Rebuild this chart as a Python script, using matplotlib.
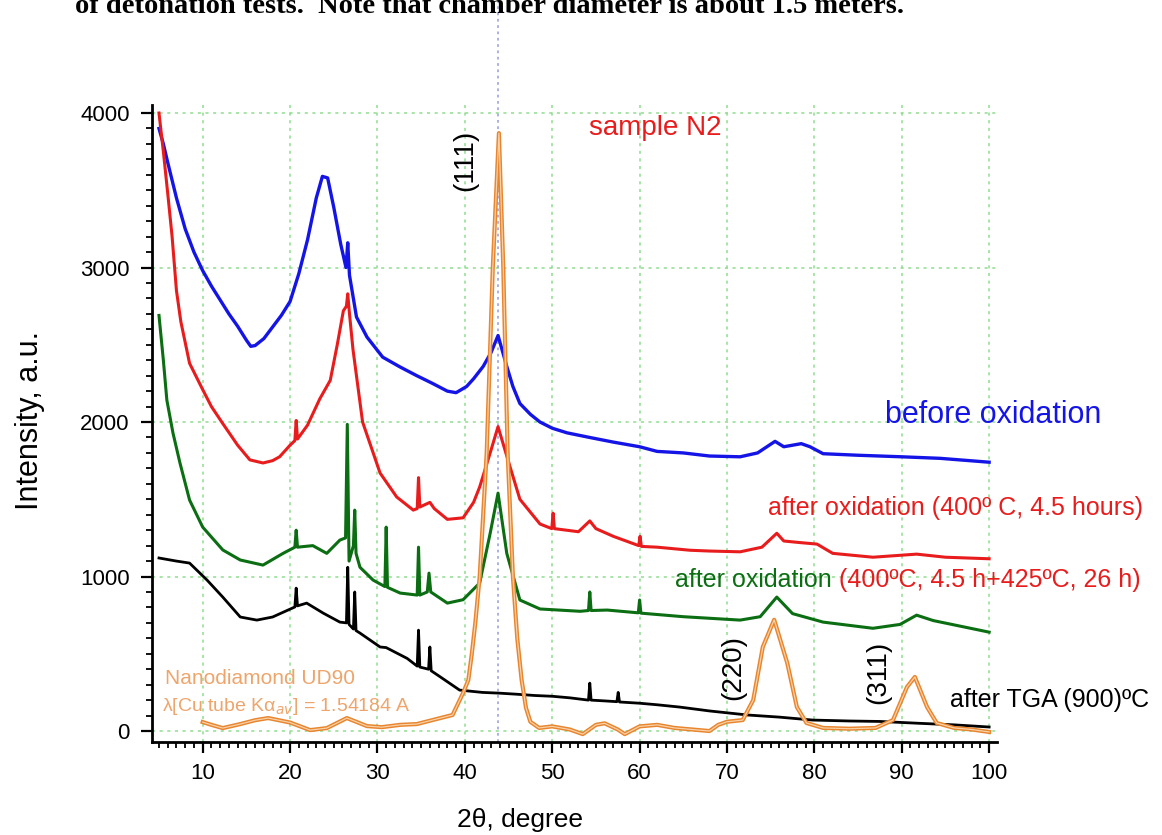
import matplotlib
matplotlib.use("Agg")
import matplotlib.pyplot as plt
from matplotlib.ticker import MultipleLocator

# ---------------- data ----------------
blue_x = [5, 5.5, 6, 7, 8, 9, 10, 11, 12, 13, 14, 15, 15.5, 16, 17, 18, 19, 20, 21, 22, 23, 23.7, 24.3, 25, 25.8, 26.4, 26.6, 26.8, 27.6, 28.8, 30.6, 32.6, 34.5, 36.3, 38, 39, 40.2, 41, 42.1, 43, 43.8, 44.8, 45.5, 46.3, 47.5, 48.6, 50, 51.7, 54.3, 57, 60, 62, 65, 68, 71.5, 73.5, 75.5, 76.5, 78.5, 79.5, 81, 85, 90, 94.4, 100]
blue_y = [3900, 3800, 3680, 3450, 3250, 3100, 2980, 2880, 2790, 2700, 2620, 2530, 2490, 2495, 2540, 2615, 2690, 2780, 2960, 3180, 3450, 3590, 3580, 3390, 3150, 3000, 3160, 2950, 2680, 2550, 2420, 2356, 2300, 2250, 2200, 2190, 2230, 2280, 2360, 2450, 2560, 2360, 2230, 2120, 2050, 2000, 1960, 1930, 1900, 1870, 1840, 1810, 1800, 1780, 1775, 1800, 1875, 1840, 1860, 1840, 1795, 1785, 1775, 1765, 1740]

red_x = [5, 5.5, 6, 6.5, 7, 7.5, 8.5, 10, 11, 12.3, 14, 15.4, 16.9, 18, 18.8, 20, 20.55, 20.7, 20.85, 22, 23.4, 24.6, 25.4, 26.1, 26.45, 26.6, 26.8, 27.2, 28.3, 30.3, 32.2, 34.1, 34.55, 34.7, 34.85, 36, 36.5, 38, 39.8, 41, 41.7, 42.9, 43.8, 44.8, 46.3, 48.6, 49.95, 50.1, 50.25, 53, 54.3, 55, 57, 59.9, 60.05, 60.2, 62, 65.8, 68, 71.5, 74, 75.7, 76.5, 78.3, 80.3, 82.1, 86.7, 91.7, 95, 100]
red_y = [4000, 3750, 3480, 3200, 2850, 2650, 2380, 2210, 2100, 1990, 1850, 1755, 1735, 1750, 1775, 1850, 1880, 2010, 1890, 1980, 2150, 2270, 2500, 2720, 2750, 2830, 2700, 2470, 2000, 1670, 1515, 1430, 1440, 1640, 1450, 1480, 1440, 1370, 1380, 1480, 1580, 1800, 1970, 1780, 1500, 1340, 1310, 1410, 1310, 1290, 1360, 1310, 1260, 1200, 1260, 1195, 1190, 1170, 1165, 1160, 1190, 1280, 1230, 1220, 1210, 1150, 1125, 1145, 1125, 1115]

green_x = [5, 5.5, 5.9, 6.6, 7.4, 8.5, 10, 12.3, 14.3, 16.9, 19.2, 20.55, 20.7, 20.85, 22.6, 24.2, 25.7, 26.35, 26.55, 26.75, 27.25, 27.4, 27.55, 28, 29.5, 30.85, 31, 31.15, 32.6, 34.55, 34.7, 34.85, 35.7, 35.9, 36.1, 38, 39.8, 41.7, 42.9, 43.8, 44.8, 46.3, 48.6, 53.2, 54.15, 54.3, 54.45, 56.3, 59.85, 60, 60.15, 65, 71.5, 73.8, 75.7, 77.5, 81, 86.7, 89.8, 91.7, 93.6, 100]
green_y = [2690, 2400, 2142, 1929, 1735, 1495, 1320, 1172, 1107, 1074, 1150, 1190, 1300, 1190, 1200, 1150, 1236, 1250, 1985, 1100, 1200, 1430, 1150, 1060, 977, 935, 1320, 930, 893, 880, 1190, 880, 900, 1022, 900, 828, 850, 958, 1280, 1540, 1150, 848, 790, 775, 780, 900, 780, 783, 765, 848, 763, 740, 718, 740, 867, 760, 705, 665, 690, 750, 715, 640]

black_x = [5, 7, 8.5, 10.5, 12.3, 14.3, 16.2, 18, 20.55, 20.7, 20.85, 21.9, 23.8, 25.7, 26.45, 26.6, 26.75, 27.25, 27.4, 27.55, 28, 30.3, 31, 33.4, 34.55, 34.7, 34.85, 35.85, 36, 36.15, 37.2, 39.4, 42, 44, 46, 48, 50, 52, 54.15, 54.3, 54.45, 56, 57.4, 57.55, 57.7, 60, 62, 64.6, 68, 72.3, 76, 79.8, 84, 87.5, 92, 96, 100]
black_y = [1120, 1100, 1087, 977, 867, 738, 718, 738, 803, 925, 810, 828, 763, 705, 700, 1060, 690, 660, 900, 650, 634, 544, 540, 470, 420, 653, 414, 400, 544, 390, 350, 265, 250, 245, 238, 230, 225, 215, 200, 310, 200, 195, 190, 250, 188, 180, 170, 155, 130, 104, 90, 71, 65, 62, 50, 40, 26]

orange_x = [10, 11, 12.3, 14.3, 16, 17.5, 20, 22.3, 24.2, 26.5, 28.8, 30.5, 32.6, 34.5, 36.3, 38.6, 39.8, 40.4, 40.8, 41.2, 41.7, 42.5, 43.2, 43.9, 44.4, 44.9, 45.5, 46.0, 46.5, 47.0, 47.5, 48.5, 50, 52, 53.5, 55, 56, 57.5, 58.3, 60, 62, 64, 66, 68, 69, 70, 71.8, 73, 74.1, 75.4, 76.9, 78, 79.1, 81, 84, 87, 89, 90.6, 91.5, 92.9, 94, 96, 98, 100]
orange_y = [58, 40, 19, 45, 70, 84, 55, 6, 19, 84, 32, 25, 40, 45, 71, 104, 246, 330, 500, 700, 1000, 1800, 3000, 3870, 3000, 1800, 1000, 600, 330, 150, 60, 20, 30, 10, -20, 40, 50, 10, -20, 30, 40, 20, 10, 0, 40, 60, 71, 200, 544, 720, 440, 155, 52, 20, 15, 20, 71, 285, 350, 155, 52, 20, 10, -6]

x_ticks = [10, 20, 30, 40, 50, 60, 70, 80, 90, 100]
y_ticks = [0, 1000, 2000, 3000, 4000]

# ---------------- figure ----------------
plt.rcParams['font.family'] = ['Liberation Sans', 'DejaVu Sans']
fig = plt.figure(figsize=(11.62, 8.35), dpi=100)
ax = fig.add_axes([152/1162, 1-742/835, (997-152)/1162, (742-105)/835])

C_BLUE = '#1414e6'
C_RED = '#e81c1c'
C_GREEN = '#0b6e12'
C_BLACK = '#000000'
C_ORANGE = '#e8852e'

ax.plot(blue_x, blue_y, color=C_BLUE, lw=2.4, zorder=3)
ax.plot(red_x, red_y, color=C_RED, lw=2.2, zorder=3)
ax.plot(green_x, green_y, color=C_GREEN, lw=2.2, zorder=3)
ax.plot(black_x, black_y, color=C_BLACK, lw=2.0, zorder=3)
ax.plot(orange_x, orange_y, color=C_ORANGE, lw=3.0, zorder=4)
ax.plot(orange_x, orange_y, color='#f8d2a8', lw=0.9, zorder=4)

ax.set_xlim(4.2, 100.9)
ax.set_ylim(-71, 4052)
ax.set_xticks(x_ticks)
ax.set_yticks(y_ticks)
ax.xaxis.set_minor_locator(MultipleLocator(1))
ax.yaxis.set_minor_locator(MultipleLocator(100))

for s in ['top', 'right']:
    ax.spines[s].set_visible(False)
for s in ['left', 'bottom']:
    ax.spines[s].set_linewidth(2)

ax.tick_params(which='major', direction='out', length=8, width=1.6, labelsize=16)
ax.tick_params(which='minor', direction='out', length=4.5, width=1.3)
ax.tick_params(axis='x', which='major', pad=7)
ax.tick_params(axis='y', which='major', pad=8)

ax.grid(True, which='major', color='#8fdc8f', ls=(0, (2, 3)), lw=1.1)
ax.set_axisbelow(True)

# vertical dotted reference line at the (111) position, extending above the axes
ax.axvline(43.8, ymin=0, ymax=742/637, color='#a4aadf', ls=(0, (1.5, 2)), lw=1.3,
           clip_on=False, zorder=2)

ax.set_xlabel('2θ, degree', fontsize=19)
ax.set_ylabel('Intensity, a.u.', fontsize=22)
ax.xaxis.set_label_coords((520-152)/845, (742-820)/637)
ax.xaxis.label.set_va('center')
ax.yaxis.set_label_coords((30-152)/845, (742-420)/637)
ax.yaxis.label.set_va('center')

# annotations
ax.text(61.75, 3903, 'sample N2', color=C_RED, fontsize=20, ha='center', va='center')
ax.text(40.0, 3696, '(111)', rotation=90, fontsize=20, ha='center', va='center')
ax.text(70.67, 408, '(220)', rotation=90, fontsize=20, ha='center', va='center')
ax.text(87.27, 382, '(311)', rotation=90, fontsize=20, ha='center', va='center')
ax.text(88.07, 2045, 'before oxidation', color=C_BLUE, fontsize=22, ha='left', va='center')
ax.text(74.68, 1443, 'after oxidation (400º C, 4.5 hours)', color=C_RED, fontsize=18,
        ha='left', va='center')
g = ax.text(64.04, 977, 'after oxidation', color=C_GREEN, fontsize=18,
            ha='left', va='center')
ax.annotate(' (400ºC, 4.5 h+425ºC, 26 h)', xy=(1, 0), xycoords=g, color=C_RED,
            fontsize=18, ha='left', va='bottom')
ax.text(95.5, 201, 'after TGA (900)ºC', color=C_BLACK, fontsize=18, ha='left', va='center')
ax.text(5.69, 343, 'Nanodiamond UD90', color='#eea56c', fontsize=15, ha='left', va='center')
ax.text(5.34, 162, 'λ[Cu tube Kα$_{av}$] = 1.54184 A', color='#eea56c', fontsize=14,
        ha='left', va='center')

# clipped caption line at the very top of the page
fig.text(75/1162, 1-13/835,
         'of detonation tests.  Note that chamber diameter is about 1.5 meters.',
         family=['Liberation Serif', 'DejaVu Serif'], weight='bold', fontsize=20.5,
         ha='left', va='baseline')

fig.savefig('out.png', dpi=100)
